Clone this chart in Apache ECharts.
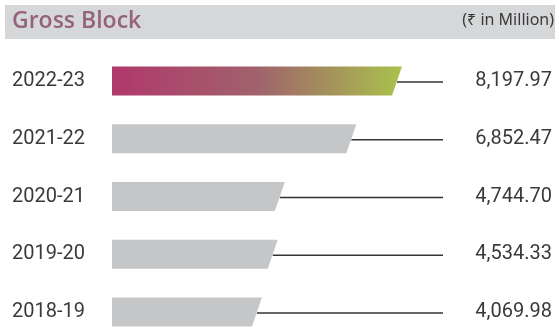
<!DOCTYPE html>
<html>
<head>
<meta charset="utf-8">
<script src="https://cdn.jsdelivr.net/npm/echarts@6/dist/echarts.min.js"></script>
<style>
html,body{margin:0;padding:0;background:#fff;}
#chart{width:559px;height:329px;}
</style>
</head>
<body>
<div id="chart"></div>
<script>
const categories = ['2022-23', '2021-22', '2020-21', '2019-20', '2018-19'];
const values = [8197.97, 6852.47, 4744.70, 4534.33, 4069.98];
const titleText = 'Gross Block';
const unitText = '(₹ in Million)';

const xMin = -350;
const xMax = 12620;
const fmt = v => v.toLocaleString('en-US', {minimumFractionDigits: 2, maximumFractionDigits: 2});
const valueLabels = values.map(fmt);

const chart = echarts.init(document.getElementById('chart'), null, {renderer: 'canvas'});

const highlight = new echarts.graphic.LinearGradient(0, 0, 1, 0, [
  {offset: 0, color: '#b1386b'},
  {offset: 0.5, color: '#a0626c'},
  {offset: 1, color: '#a9c24c'}
]);

chart.setOption({
  animation: false,
  backgroundColor: '#ffffff',
  graphic: [
    {type: 'rect', left: 5, top: 5, shape: {width: 550, height: 34}, style: {fill: '#d6d7d9'}, z: 0},
    {type: 'text', left: 12, top: 10, style: {text: titleText, fill: '#94627a', font: '600 23px "Open Sans", Roboto, sans-serif'}, z: 1},
    {type: 'text', right: 5, top: 12, style: {text: unitText, fill: '#3a3a3a', font: '16px "Noto Sans", Roboto, sans-serif'}, z: 1}
  ],
  grid: {left: 112, right: 7, top: 81, bottom: 17, containLabel: false},
  xAxis: {
    type: 'value', min: xMin, max: xMax, show: false
  },
  yAxis: [
    {
      type: 'category', data: categories, inverse: true, boundaryGap: false,
      axisLine: {show: false}, axisTick: {show: false}, splitLine: {show: false},
      axisLabel: {align: 'left', margin: 100, color: '#3a3a3a', fontSize: 20, fontFamily: 'Roboto, sans-serif'}
    },
    {
      type: 'category', data: valueLabels, inverse: true, position: 'right', boundaryGap: false,
      axisLine: {show: false}, axisTick: {show: false}, splitLine: {show: false},
      axisLabel: {align: 'right', margin: 0, color: '#3a3a3a', fontSize: 20, fontFamily: 'Roboto, sans-serif'}
    }
  ],
  series: [{
    type: 'custom',
    encode: {x: 1, y: 0},
    data: values.map((v, i) => [i, v]),
    renderItem: function (params, api) {
      const idx = api.value(0);
      const v = api.value(1);
      const start = api.coord([xMin, idx]);
      const end = api.coord([v, idx]);
      const next = api.coord([v, idx === 0 ? 1 : idx - 1]);
      const band = Math.abs(next[1] - end[1]);
      const h = band * 0.5;
      const slant = 10;
      const cy = end[1];
      const top = cy - h / 2, bot = cy + h / 2;
      const lineEnd = params.coordSys.x + 331;
      return {
        type: 'group',
        children: [
          {
            type: 'line',
            shape: {x1: end[0] - slant / 2, y1: cy + 1, x2: lineEnd, y2: cy + 1},
            style: {stroke: '#333333', lineWidth: 1.3}
          },
          {
            type: 'polygon',
            shape: {points: [[start[0], top], [end[0], top], [end[0] - slant, bot], [start[0], bot]]},
            style: {fill: idx === 0 ? highlight : '#c5c6c8'}
          }
        ]
      };
    }
  }]
});
</script>
</body>
</html>
